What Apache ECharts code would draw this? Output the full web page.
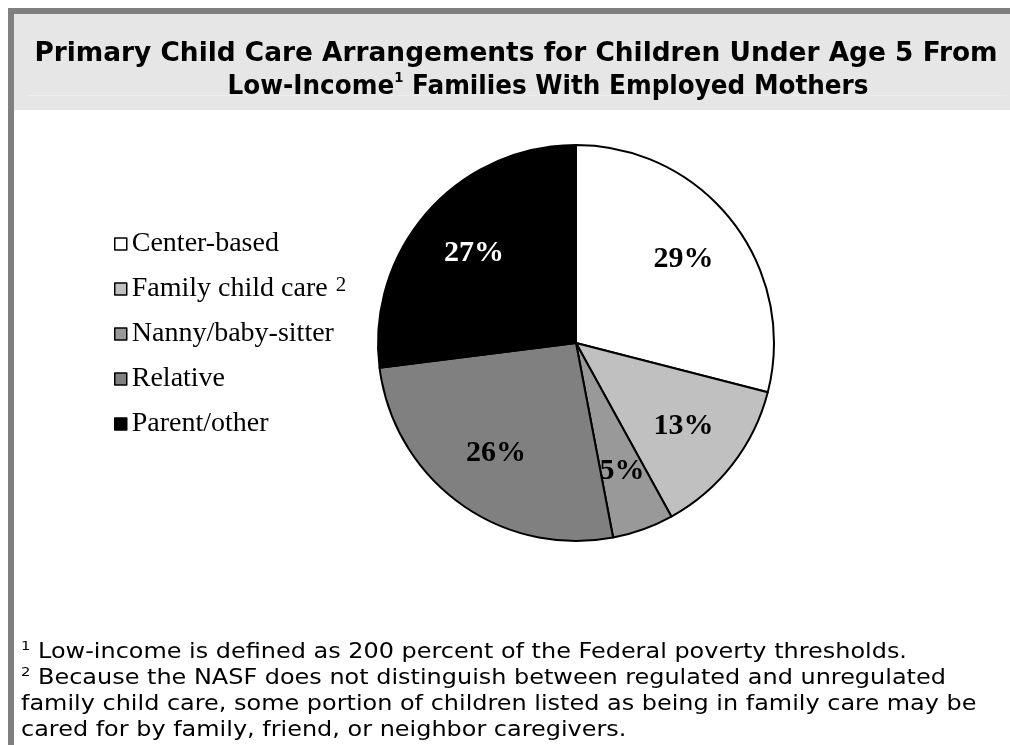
<!DOCTYPE html>
<html>
<head>
<meta charset="utf-8">
<script src="https://cdn.jsdelivr.net/npm/echarts@6/dist/echarts.min.js"></script>
<style>
html,body{margin:0;padding:0;background:#fff;}
#chart{width:1010px;height:745px;}
</style>
</head>
<body>
<div id="chart"></div>
<script>
// ---- data ----
const categories = ['Center-based', 'Family child care', 'Nanny/baby-sitter', 'Relative', 'Parent/other'];
const shares = [29, 13, 5, 26, 27];
const titleLine1 = 'Primary Child Care Arrangements for Children Under Age 5 From';
const titleLine2a = 'Low-Income';
const titleLine2b = ' Families With Employed Mothers';
const footnotes = [
  ['1', ' Low-income is defined as 200 percent of the Federal poverty thresholds.'],
  ['2', ' Because the NASF does not distinguish between regulated and unregulated'],
  ['', 'family child care, some portion of children listed as being in family care may be'],
  ['', 'cared for by family, friend, or neighbor caregivers.']
];
// ---- styles ----
const sliceColors = ['#ffffff', '#c0c0c0', '#999999', '#808080', '#000000'];
const serif = 'Liberation Serif';
const sans = 'DejaVu Sans';

function isDark(hex) {
  return parseInt(hex.slice(1, 3), 16) < 80;
}

const pieData = categories.map((c, i) => ({
  name: c, value: shares[i], itemStyle: { color: sliceColors[i] }
}));
const labelData = categories.map((c, i) => ({
  name: c, value: shares[i],
  itemStyle: { color: 'rgba(0,0,0,0)', borderWidth: 0 },
  label: { color: isDark(sliceColors[i]) ? '#ffffff' : '#000000' }
}));

const footText = footnotes.map(f => (f[0] ? '{s|' + f[0] + '}' : '') + '{t|' + f[1] + '}').join('\n');
const titleRich = {
  m: { fontFamily: sans, fontWeight: 'bold', fontSize: 26, lineHeight: 33, fill: '#000' },
  s: { fontFamily: sans, fontWeight: 'bold', fontSize: 14, lineHeight: 33, verticalAlign: 'top', fill: '#000' }
};

const chart = echarts.init(document.getElementById('chart'), null, { renderer: 'canvas' });
chart.setOption({
  backgroundColor: '#ffffff',
  animation: false,
  graphic: [
    { type: 'rect', shape: { x: 14, y: 14, width: 996, height: 96 }, style: { fill: '#e6e6e6' }, z: 0 },
    { type: 'rect', shape: { x: 27, y: 95, width: 980, height: 1 }, style: { fill: '#ececec' }, z: 1 },
    { type: 'rect', shape: { x: 8, y: 8, width: 1002, height: 6 }, style: { fill: '#808080' }, z: 2 },
    { type: 'rect', shape: { x: 8, y: 8, width: 6, height: 737 }, style: { fill: '#808080' }, z: 2 },
    {
      type: 'text', x: 516, y: 38, scaleX: 1.015, z: 5,
      style: { text: '{m|' + titleLine1 + '}', align: 'center', verticalAlign: 'top', rich: titleRich }
    },
    {
      type: 'text', x: 548, y: 71, scaleX: 0.95, z: 5,
      style: { text: '{m|' + titleLine2a + '}{s|1}{m|' + titleLine2b + '}', align: 'center', verticalAlign: 'top', rich: titleRich }
    },
    {
      type: 'text', x: 21, y: 640, scaleX: 1.14, z: 5,
      style: {
        text: footText,
        verticalAlign: 'top',
        rich: {
          t: { fontFamily: sans, fontSize: 21, lineHeight: 26, fill: '#000' },
          s: { fontFamily: sans, fontSize: 13, lineHeight: 26, verticalAlign: 'top', fill: '#000' }
        }
      }
    }
  ],
  legend: {
    orient: 'vertical',
    left: 114,
    top: 230,
    padding: 0,
    itemGap: 17,
    itemWidth: 12,
    itemHeight: 12,
    icon: 'rect',
    data: categories,
    selectedMode: false,
    itemStyle: { borderColor: '#000', borderWidth: 1.5 },
    formatter: name => name === 'Family child care' ? '{n|' + name + '}{s|2}' : '{n|' + name + '}',
    textStyle: {
      rich: {
        n: { fontFamily: serif, fontSize: 28, lineHeight: 28, color: '#000' },
        s: { fontFamily: serif, fontSize: 21, lineHeight: 28, verticalAlign: 'top', padding: [0, 0, 0, 8], color: '#000' }
      }
    }
  },
  series: [
    {
      type: 'pie',
      center: [576, 343],
      radius: [0, 198],
      startAngle: 90,
      clockwise: true,
      silent: true,
      label: { show: false },
      labelLine: { show: false },
      itemStyle: { borderColor: '#000', borderWidth: 2 },
      data: pieData
    },
    {
      type: 'pie',
      center: [576, 343],
      radius: [0, 266],
      startAngle: 90,
      clockwise: true,
      silent: true,
      z: 5,
      labelLine: { show: false },
      label: {
        show: true,
        position: 'inside',
        formatter: '{c}%',
        fontFamily: serif,
        fontWeight: 'bold',
        fontSize: 30
      },
      data: labelData
    }
  ]
});
</script>
</body>
</html>
